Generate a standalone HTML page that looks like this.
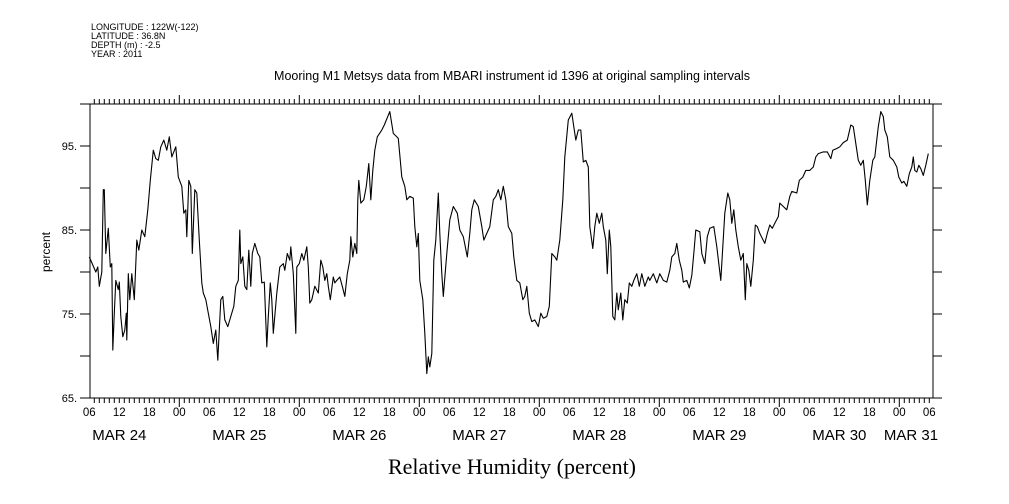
<!DOCTYPE html>
<html><head><meta charset="utf-8"><style>
html,body{margin:0;padding:0;background:#fff;}
svg{display:block;font-family:"Liberation Sans",sans-serif;}
</style></head><body>
<svg id="chart" width="1009" height="504" viewBox="0 0 1009 504" xmlns="http://www.w3.org/2000/svg">
<g font-size="9" fill="#000">
<text x="91" y="30">LONGITUDE : 122W(-122)</text>
<text x="91" y="39">LATITUDE : 36.8N</text>
<text x="91" y="48">DEPTH (m) : -2.5</text>
<text x="91" y="57">YEAR : 2011</text>
</g>
<text x="512" y="80" font-size="12.5" text-anchor="middle">Mooring M1 Metsys data from MBARI instrument id 1396 at original sampling intervals</text>
<text x="512" y="474" font-size="22" text-anchor="middle" font-family="Liberation Serif, serif">Relative Humidity (percent)</text>
<text transform="translate(50,252) rotate(-90)" font-size="12" text-anchor="middle">percent</text>
<g id="axes"></g>
<g id="series"></g>
</svg>
<script>
const hours=[6.0,7.3,7.7,8.0,8.5,8.8,9.0,9.3,9.8,10.2,10.5,10.7,11.0,11.3,11.8,12.0,12.3,12.7,13.1,13.4,13.5,13.8,14.1,14.5,15.0,15.5,15.9,16.5,17.1,17.7,18.2,18.8,19.3,19.8,20.3,20.9,21.5,22.0,22.5,23.3,23.8,24.5,24.9,25.3,25.5,25.9,26.3,26.6,27.1,27.5,28.0,28.5,28.8,29.3,29.8,30.3,30.8,31.3,31.7,31.9,32.3,32.7,33.1,33.7,34.1,34.9,35.3,35.8,36.1,36.3,36.7,37.1,37.5,37.9,38.3,38.6,39.1,39.7,40.1,40.5,41.0,41.5,41.8,42.2,42.5,42.8,43.5,44.1,44.8,45.1,45.6,46.1,46.3,46.8,47.3,47.5,48.0,48.5,48.9,49.5,49.8,50.1,50.5,51.1,51.8,52.3,52.7,53.1,53.5,53.8,54.2,54.8,55.1,55.5,56.1,56.6,57.1,57.6,58.1,58.3,58.7,59.1,59.5,59.7,59.9,60.3,60.9,61.4,61.9,62.3,62.7,63.1,63.6,64.5,65.0,
66.1,66.8,67.8,68.5,69.1,69.5,70.1,70.8,71.1,71.5,71.8,72.1,72.7,73.1,73.5,73.8,74.1,74.5,74.9,75.3,75.8,76.1,76.5,76.8,77.5,78.1,78.8,79.6,80.1,80.8,81.6,82.1,82.5,83.0,83.8,84.5,84.9,85.5,86.1,86.8,87.3,87.8,88.3,88.8,89.3,89.8,90.5,90.9,91.5,92.1,92.7,93.1,93.5,94.0,94.5,95.1,95.8,96.3,96.8,97.5,98.0,98.5,99.1,99.5,100.1,100.7,101.1,101.8,102.5,102.9,103.3,103.8,104.3,104.8,105.3,105.8,106.1,106.7,107.1,107.5,108.0,108.5,108.8,109.3,109.6,110.0,110.3,110.7,111.1,111.5,111.8,112.3,112.7,113.1,113.6,114.0,114.5,114.9,115.5,116.0,116.5,117.1,117.8,
118.1,118.8,119.5,120.1,120.8,121.5,122.1,122.5,123.1,123.5,124.0,124.5,124.8,125.5,126.0,126.5,126.9,127.3,128.1,128.5,129.1,129.6,130.1,130.9,131.5,131.9,132.3,132.7,133.1,133.7,134.1,134.5,134.9,135.3,135.8,136.3,136.8,137.2,137.5,137.9,138.3,138.8,139.2,139.6,140.1,141.1,141.6,142.1,142.6,143.1,143.8,144.1,144.8,145.5,146.1,146.5,147.5,148.0,148.7,149.3,150.1,150.8,151.3,151.8,152.8,153.6,154.3,154.7,155.5,156.1,156.8,157.6,158.3,158.8,159.3,159.8,160.3,160.8,161.2,161.6,162.1,162.7,163.1,163.8,164.3,164.8,165.1,165.6,166.1,166.8,167.5,167.9,168.5,168.9,169.5,170.0,170.5,170.8,171.1,171.5,171.9,172.3,172.8,173.3,173.8];
const humidity=[81.8,80.0,80.6,78.3,80.0,89.8,89.8,82.2,85.2,80.6,81.0,70.7,75.1,79.0,77.9,78.8,74.7,72.3,73.1,75.1,71.9,79.8,76.7,79.8,76.7,83.8,82.6,85.0,84.2,87.4,90.9,94.5,93.5,93.3,94.9,95.7,94.5,96.1,93.7,94.9,91.3,90.2,87.0,87.4,84.2,90.9,90.2,82.2,89.8,89.4,83.8,78.7,77.5,76.7,75.1,73.5,71.5,73.1,69.5,71.9,76.7,77.1,74.3,73.5,74.3,75.9,78.3,79.0,85.0,81.0,81.8,78.3,77.9,82.6,78.3,82.2,83.4,82.2,81.8,78.7,78.8,71.1,74.7,78.7,76.7,72.7,77.5,80.6,81.0,80.2,82.2,81.4,83.0,79.8,72.7,80.6,81.0,82.2,81.4,83.0,80.6,76.3,76.7,78.3,77.5,81.4,80.6,79.0,79.8,78.3,76.7,79.4,78.7,79.0,79.4,78.3,77.1,79.8,81.4,84.2,81.8,83.4,82.2,88.6,90.9,88.2,88.6,90.2,92.9,88.6,92.1,94.5,96.1,96.9,97.5,
99.1,96.5,95.9,91.3,90.2,88.6,89.0,88.8,85.4,83.0,84.6,79.0,76.7,72.7,67.9,69.9,68.7,70.3,81.4,83.8,89.4,84.6,79.8,77.1,82.2,86.2,87.8,87.0,85.0,84.2,81.8,84.6,87.4,88.6,87.8,85.4,83.8,84.6,85.4,88.6,89.0,89.8,88.6,90.2,88.6,85.4,84.6,81.8,79.0,78.7,76.7,77.1,78.3,75.1,74.1,74.3,73.5,75.1,74.5,74.7,75.9,82.2,81.8,81.4,83.8,88.6,93.7,98.1,98.9,97.3,95.7,96.9,96.9,93.1,93.3,92.5,85.4,82.8,85.4,87.0,85.8,87.0,85.4,83.8,79.8,85.0,83.0,74.7,74.3,77.5,75.5,77.5,74.3,76.7,76.3,78.7,78.3,79.0,79.8,78.3,79.8,78.3,79.4,
79.0,79.8,78.7,79.8,79.0,78.8,80.2,81.8,82.2,83.4,81.4,80.2,78.8,79.0,78.1,79.6,82.2,85.0,84.8,82.2,81.0,84.2,85.2,85.4,83.0,81.0,79.0,83.0,87.0,89.4,88.6,85.8,87.4,85.0,83.0,81.4,82.2,76.7,81.0,80.2,78.3,81.4,85.6,85.4,84.6,83.4,84.6,85.6,85.2,85.8,86.6,88.2,87.8,87.4,89.0,89.6,89.4,90.9,91.3,92.1,92.1,92.5,93.7,94.1,94.3,94.3,93.5,94.5,94.7,94.9,95.4,95.7,97.5,97.3,95.3,93.3,92.7,93.3,90.9,88.0,90.9,93.3,93.7,97.3,99.1,98.5,96.9,96.1,93.7,93.3,92.5,91.3,90.6,90.8,90.2,91.7,92.5,93.7,92.1,91.9,92.7,92.3,91.5,92.7,94.1];
const yTicks=[65,70,75,80,85,90,95,100];
const yTickLabels=["65.","","75.","","85.","","95.",""];
const hourLabels=["06","12","18","00"];
const dayLabels=["MAR 24","MAR 25","MAR 26","MAR 27","MAR 28","MAR 29","MAR 30","MAR 31"];

const NS="http://www.w3.org/2000/svg";
const L=90,R=933,T=104,B=398;
const X0=59.3, PXH=5; // Mar24 00:00 at x=59.3, 5px per hour
const xS=h=>X0+h*PXH;
const yS=v=>B-(v-65)*(B-T)/35;
const axes=document.getElementById('axes');
const series=document.getElementById('series');
function mk(tag,attrs,parent){const e=document.createElementNS(NS,tag);for(const k in attrs)e.setAttribute(k,attrs[k]);parent.appendChild(e);return e;}

const frame=mk('rect',{x:L,y:T,width:R-L,height:B-T,fill:'none',stroke:'#000','stroke-width':1},axes);



// y ticks & labels
yTicks.forEach((v,i)=>{
  const y=yS(v);
  const t=mk('line',{x1:L-10,x2:L,y1:y,y2:y,stroke:'#000'},axes);
  
  
  const t2=mk('line',{x1:R,x2:R+9,y1:y,y2:y,stroke:'#000'},axes);
  
  
  if(yTickLabels[i]){
    const tx=mk('text',{x:L-13,y:y+4,'font-size':11,'text-anchor':'end'},axes);
    tx.textContent=yTickLabels[i];
    
    
  }
});

// x ticks
for(let h=7;h<=174;h++){
  const x=xS(h);
  if(x<L||x>R)continue;
  const major=h%24===0;
  const b=mk('line',{x1:x,x2:x,y1:B,y2:B+(major?9:5),stroke:'#000'},axes);
  
  
  const t=mk('line',{x1:x,x2:x,y1:T,y2:T-(major?9:5),stroke:'#000'},axes);
  
  
}
// hour labels every 6h
for(let h=6;h<=174;h+=6){
  const x=xS(h);
  const tx=mk('text',{x:x,y:416,'font-size':11.5,'text-anchor':'middle'},axes);
  tx.textContent=hourLabels[(h/6)%4===1?0:(h/6)%4===2?1:(h/6)%4===3?2:3];
  
  
}
// day labels at noon (last one at right edge)
dayLabels.forEach((d,i)=>{
  let x=xS(i*24+12);
  if(x>R) x=911;
  const tx=mk('text',{x:x,y:440,'font-size':15,'text-anchor':'middle'},axes);
  tx.textContent=d;
  
  
});

// series
const pts=hours.map((h,i)=>xS(h).toFixed(1)+','+yS(humidity[i]).toFixed(1)).join(' ');
const line=mk('polyline',{points:pts,fill:'none',stroke:'#000','stroke-width':1.1,'stroke-linejoin':'round'},series);


</script>
</body></html>
